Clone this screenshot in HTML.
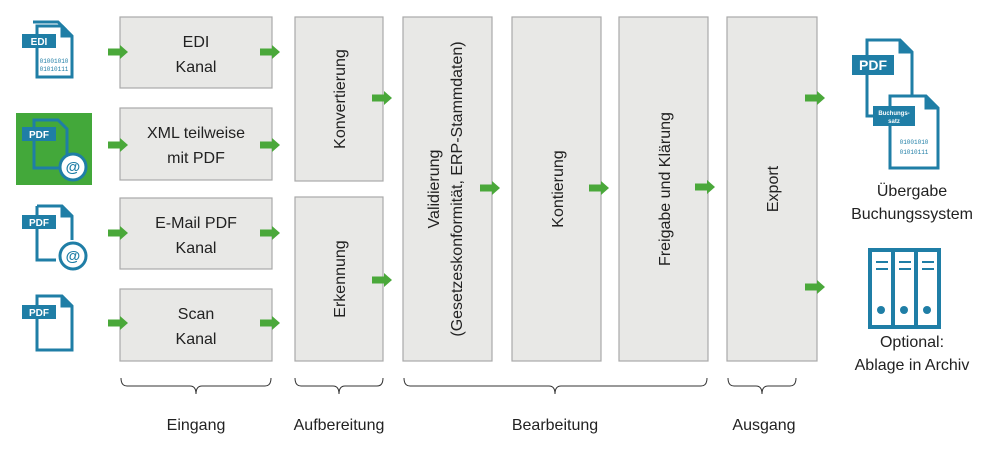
<!DOCTYPE html>
<html><head><meta charset="utf-8"><style>html,body{margin:0;padding:0;background:#fff}svg{display:block}</style></head><body>
<svg width="1000" height="450" viewBox="0 0 1000 450" xmlns="http://www.w3.org/2000/svg" font-family="Liberation Sans, sans-serif">
<defs>
<g id="ar"><path d="M0,-3.5 H12 V-7 L20,0 L12,7 V3.5 H0 Z" fill="#4aa83a"/></g>
</defs>
<g fill="#e8e8e6" stroke="#a9a9a9" stroke-width="1.2">
<rect x="120" y="17" width="152" height="71"/>
<rect x="120" y="108" width="152" height="72"/>
<rect x="120" y="198" width="152" height="71"/>
<rect x="120" y="289" width="152" height="72"/>
<rect x="295" y="17" width="88" height="164"/>
<rect x="295" y="197" width="88" height="164"/>
<rect x="403" y="17" width="89" height="344"/>
<rect x="512" y="17" width="89" height="344"/>
<rect x="619" y="17" width="89" height="344"/>
<rect x="727" y="17" width="90" height="344"/>
</g>
<g font-size="16" fill="#222" text-anchor="middle">
<text x="196" y="47">EDI</text><text x="196" y="72">Kanal</text>
<text x="196" y="138">XML teilweise</text><text x="196" y="163">mit PDF</text>
<text x="196" y="228">E-Mail PDF</text><text x="196" y="253">Kanal</text>
<text x="196" y="319">Scan</text><text x="196" y="344">Kanal</text>
<text transform="translate(345,99) rotate(-90)">Konvertierung</text>
<text transform="translate(345,279) rotate(-90)">Erkennung</text>
<text transform="translate(439,189) rotate(-90)">Validierung</text>
<text transform="translate(462,189) rotate(-90)">(Gesetzeskonformität, ERP-Stammdaten)</text>
<text transform="translate(563,189) rotate(-90)">Kontierung</text>
<text transform="translate(670,189) rotate(-90)">Freigabe und Klärung</text>
<text transform="translate(778,189) rotate(-90)">Export</text>
<text x="196" y="430">Eingang</text>
<text x="339" y="430">Aufbereitung</text>
<text x="555" y="430">Bearbeitung</text>
<text x="764" y="430">Ausgang</text>
<text x="912" y="196">Übergabe</text><text x="912" y="219">Buchungssystem</text>
<text x="912" y="347">Optional:</text><text x="912" y="370">Ablage in Archiv</text>
</g>
<g fill="none" stroke="#333" stroke-width="1">
<path d="M121,378 q0,8 6,8 H190 q6,0 6,8 q0,-8 6,-8 H265 q6,0 6,-8"/>
<path d="M295,378 q0,8 6,8 H333 q6,0 6,8 q0,-8 6,-8 H377 q6,0 6,-8"/>
<path d="M404,378 q0,8 6,8 H549 q6,0 6,8 q0,-8 6,-8 H701 q6,0 6,-8"/>
<path d="M728,378 q0,8 6,8 H756 q6,0 6,8 q0,-8 6,-8 H790 q6,0 6,-8"/>
</g>
<g>
<use href="#ar" x="108" y="52"/><use href="#ar" x="108" y="145"/><use href="#ar" x="108" y="233"/><use href="#ar" x="108" y="323"/>
<use href="#ar" x="260" y="52"/><use href="#ar" x="260" y="145"/><use href="#ar" x="260" y="233"/><use href="#ar" x="260" y="323"/>
<use href="#ar" x="372" y="98"/><use href="#ar" x="372" y="280"/>
<use href="#ar" x="480" y="188"/><use href="#ar" x="589" y="188"/><use href="#ar" x="695" y="187"/>
<use href="#ar" x="805" y="98"/><use href="#ar" x="805" y="287"/>
</g>
<g stroke="#1f7ea6" fill="none" stroke-width="3">
<path d="M33,22 H58 L66,30"/>
<path d="M37,26 H62 L72,36 V77 H37 Z" fill="#fff"/><path d="M62,26 V36 H72" fill="#1f7ea6"/>
<rect x="16" y="113" width="76" height="72" fill="#43a83a" stroke="none"/>
<path d="M34,120 H58 L67,129 V168 H34 Z"/>
<path d="M37,206 H62 L72,216 V240 M56,260 H37 V206"/><path d="M62,206 V216 H72" fill="#1f7ea6"/>
<path d="M37,296 H62 L72,306 V350 H37 Z"/><path d="M62,296 V306 H72" fill="#1f7ea6"/>
<path d="M867,40 H900 L912,52 V116 H867 Z"/><path d="M900,40 V52 H912" fill="#1f7ea6"/>
<path d="M890,96 H926 L938,108 V168 H890 Z" fill="#fff"/><path d="M926,96 V108 H938" fill="#1f7ea6"/>
<rect x="870" y="250" width="69" height="77" stroke-width="4"/>
<path d="M893,250 V327 M916,250 V327" stroke-width="4"/>
<path d="M876,262 H888 M876,269 H888 M899,262 H911 M899,269 H911 M922,262 H934 M922,269 H934" stroke-width="2"/>
</g>
<g fill="#1f7ea6">
<circle cx="881" cy="310" r="4"/><circle cx="904" cy="310" r="4"/><circle cx="927" cy="310" r="4"/>
<circle cx="73" cy="256" r="13" fill="#fff" stroke="#1f7ea6" stroke-width="3"/>
<circle cx="73" cy="167" r="13" fill="#fff" stroke="#1f7ea6" stroke-width="3"/>
<rect x="22" y="34" width="34" height="14"/>
<rect x="22" y="127" width="34" height="14"/>
<rect x="22" y="215" width="34" height="14"/>
<rect x="22" y="305" width="34" height="14"/>
<rect x="852" y="55" width="42" height="20"/>
<rect x="873" y="106" width="42" height="20"/>
</g>
<g font-weight="bold" fill="#fff" text-anchor="middle">
<text x="39" y="45" font-size="10">EDI</text>
<text x="39" y="138" font-size="10">PDF</text>
<text x="39" y="226" font-size="10">PDF</text>
<text x="39" y="316" font-size="10">PDF</text>
<text x="873" y="70" font-size="14">PDF</text>
<text x="894" y="115" font-size="6">Buchungs-</text>
<text x="894" y="123" font-size="6">satz</text>
<text x="73" y="261" font-size="15" fill="#1f7ea6">@</text>
<text x="73" y="172" font-size="15" fill="#1f7ea6">@</text>
</g>
<g font-family="Liberation Mono, monospace" font-size="6" fill="#1f7ea6" text-anchor="middle">
<text x="54" y="63">01001010</text><text x="54" y="71">01010111</text>
<text x="914" y="144">01001010</text><text x="914" y="154">01010111</text>
</g>
</svg>
</body></html>
